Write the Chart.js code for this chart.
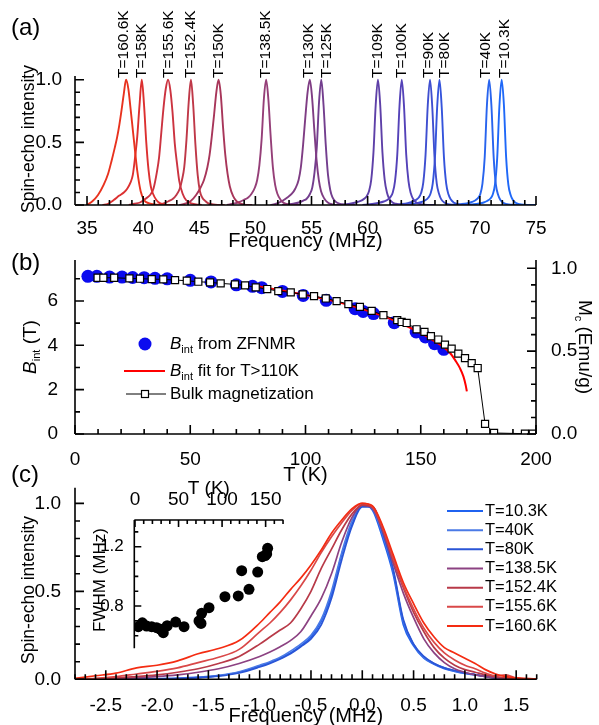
<!DOCTYPE html>
<html>
<head>
<meta charset="utf-8">
<script src="https://cdn.jsdelivr.net/npm/chart.js@4.4.1/dist/chart.umd.min.js"></script>
<style>
  html, body { margin: 0; padding: 0; background: #fff; overflow: hidden; width: 599px; height: 725px; }
  canvas { position: absolute; left: 0; top: 0; width: 599px; height: 760px; }
</style>
</head>
<body>
<canvas id="ca" width="599" height="760"></canvas>
<canvas id="cb" width="599" height="760"></canvas>
<canvas id="cc" width="599" height="760"></canvas>
<canvas id="cd" width="599" height="760"></canvas>
<script>
// ---------- panel (a): spectra vs frequency ----------
const aLabels = ['T=160.6K', 'T=158K', 'T=155.6K', 'T=152.4K', 'T=150K', 'T=138.5K', 'T=130K',
                 'T=125K', 'T=109K', 'T=100K', 'T=90K', 'T=80K', 'T=40K', 'T=10.3K'];
const aPeaks = [38.48, 39.88, 42.22, 44.26, 46.72, 50.96, 54.85, 55.87, 60.92, 63.04, 65.56, 66.40, 70.83, 71.94];
const aColors = ['#e8321e', '#dc3030', '#cc3340', '#bf3848', '#a8365a', '#953f78', '#7f3d84',
                 '#733e8e', '#5e40a8', '#5442b8', '#3f4fd0', '#3554dc', '#2864ee', '#1f68f8'];
// horizontal nudge (px) of each rotated label from its peak, so crowded labels stay apart
const aLabelNudge = [-2.7, 0, 0.4, -0.7, 0, -0.8, -0.8, 5.3, 0, 0, -1.5, 5.3, -3.3, 3.3];
// offsets (MHz) from each peak
const aOffsets = [-3.5, -3, -2.5, -2, -1.6, -1.3, -1, -0.8, -0.6, -0.4, -0.2, 0, 0.2, 0.4, 0.6, 0.8, 1, 1.3, 1.6, 2, 2.5, 3];
const a160 = [0, 0.03, 0.08, 0.16, 0.25, 0.35, 0.46, 0.54, 0.64, 0.76, 0.89, 1.0, 0.93, 0.77, 0.6, 0.43, 0.27, 0.11, 0.04, 0.015, 0.005, 0];
const a158 = [0, 0.01, 0.04, 0.075, 0.1, 0.13, 0.18, 0.24, 0.38, 0.55, 0.8, 1.0, 0.8, 0.5, 0.28, 0.15, 0.09, 0.04, 0.015, 0.005, 0, 0];
const a155 = [0, 0.01, 0.02, 0.05, 0.08, 0.13, 0.26, 0.38, 0.58, 0.78, 0.93, 1.0, 0.92, 0.74, 0.49, 0.33, 0.19, 0.09, 0.04, 0.015, 0.005, 0];
const a152 = [0, 0, 0.01, 0.03, 0.05, 0.08, 0.13, 0.2, 0.3, 0.52, 0.82, 1.0, 0.8, 0.48, 0.24, 0.11, 0.06, 0.03, 0.01, 0.005, 0, 0];
const a150 = [0, 0.01, 0.03, 0.08, 0.14, 0.2, 0.3, 0.4, 0.55, 0.72, 0.9, 1.0, 0.88, 0.62, 0.4, 0.25, 0.15, 0.07, 0.03, 0.01, 0, 0];
const a138 = [0, 0.01, 0.02, 0.04, 0.06, 0.09, 0.14, 0.2, 0.32, 0.53, 0.85, 1.0, 0.84, 0.55, 0.3, 0.16, 0.09, 0.04, 0.015, 0.005, 0, 0];
const a130 = [0, 0.01, 0.03, 0.06, 0.09, 0.13, 0.2, 0.3, 0.48, 0.7, 0.9, 1.0, 0.86, 0.6, 0.36, 0.2, 0.11, 0.05, 0.02, 0.005, 0, 0];
const a125 = [0, 0.005, 0.01, 0.02, 0.035, 0.05, 0.09, 0.14, 0.26, 0.46, 0.82, 1.0, 0.8, 0.48, 0.24, 0.12, 0.06, 0.025, 0.01, 0.003, 0, 0];
const a109 = [0, 0.005, 0.01, 0.02, 0.03, 0.045, 0.07, 0.11, 0.2, 0.42, 0.8, 1.0, 0.8, 0.42, 0.2, 0.1, 0.05, 0.02, 0.01, 0.003, 0, 0];
const a100 = [0, 0.005, 0.01, 0.018, 0.028, 0.04, 0.065, 0.1, 0.19, 0.4, 0.79, 1.0, 0.79, 0.4, 0.19, 0.095, 0.05, 0.02, 0.008, 0.003, 0, 0];
const a90 = [0, 0.004, 0.008, 0.015, 0.025, 0.038, 0.06, 0.095, 0.18, 0.4, 0.8, 1.0, 0.78, 0.38, 0.17, 0.09, 0.045, 0.018, 0.007, 0.002, 0, 0];
const a80 = [0, 0.004, 0.008, 0.015, 0.024, 0.036, 0.058, 0.09, 0.17, 0.38, 0.79, 1.0, 0.78, 0.38, 0.17, 0.085, 0.045, 0.018, 0.007, 0.002, 0, 0];
const a40 = [0, 0.003, 0.007, 0.013, 0.022, 0.034, 0.055, 0.085, 0.17, 0.38, 0.8, 1.0, 0.79, 0.38, 0.16, 0.08, 0.04, 0.015, 0.006, 0.002, 0, 0];
const a10 = [0, 0.003, 0.006, 0.012, 0.02, 0.032, 0.052, 0.082, 0.16, 0.37, 0.79, 1.0, 0.8, 0.38, 0.16, 0.08, 0.04, 0.015, 0.006, 0.002, 0, 0];
const aSpectra = [a160, a158, a155, a152, a150, a138, a130, a125, a109, a100, a90, a80, a40, a10];
const aXTicks = [35, 40, 45, 50, 55, 60, 65, 70, 75];
const aYTicks = [0, 0.5, 1.0];

// ---------- panel (b): internal field and magnetization vs T ----------
const bT = [5.6, 9.5, 15, 20.4, 25, 30, 34.7, 40, 50, 59, 70, 77, 81, 90, 99, 109, 121.5, 125, 129.5, 138.5, 148, 152, 156, 160];
const bB = [7.11, 7.11, 7.08, 7.08, 7.06, 7.05, 7.02, 7.0, 6.93, 6.86, 6.73, 6.66, 6.6, 6.43, 6.25, 6.03, 5.65, 5.53, 5.43, 5.02, 4.6, 4.38, 4.07, 3.82];
const fitT = [80, 90, 100, 110, 120, 130, 140, 150, 155, 160, 163, 165, 167, 168.5, 169.5, 170];
const fitB = [6.65, 6.47, 6.27, 6.05, 5.78, 5.45, 5.05, 4.55, 4.25, 3.92, 3.62, 3.32, 2.97, 2.6, 2.2, 1.92];
const mT = [9.8, 12.3, 17, 23.6, 28.2, 33.3, 38.3, 43.4, 48.5, 53.5, 58.6, 63.2, 69.4, 73.8, 78.4, 83.4, 88.2, 93.6,
            98.8, 103.7, 108.8, 113.5, 118.6, 123.6, 128.7, 133.8, 139.8, 141.7, 143.9, 148.2, 151.6, 154.4, 157.6,
            160.5, 163.4, 166.3, 169.2, 172.1, 174.7, 177.9, 181.8, 195.2, 198.6];
const mM = [0.943, 0.943, 0.943, 0.939, 0.937, 0.935, 0.933, 0.929, 0.925, 0.919, 0.915, 0.909, 0.903, 0.897, 0.885,
            0.875, 0.862, 0.855, 0.842, 0.832, 0.818, 0.802, 0.784, 0.767, 0.743, 0.717, 0.687, 0.676, 0.670, 0.632,
            0.616, 0.590, 0.570, 0.539, 0.515, 0.485, 0.458, 0.428, 0.398, 0.061, 0.006, 0.002, 0.002];
const bXTicks = [0, 50, 100, 150, 200];
const bYTicks = [0, 2, 4, 6];
const bY2Ticks = [0, 0.5, 1.0];

// ---------- panel (c): normalized spectra vs relative frequency ----------
const cLabels = ['T=10.3K', 'T=40K', 'T=80K', 'T=138.5K', 'T=152.4K', 'T=155.6K', 'T=160.6K'];
const cColors = ['#1f62f0', '#4a7ae6', '#2a55d6', '#8c4282', '#b83a48', '#d94848', '#f42c12'];
const cFreq = [-2.8, -2.6, -2.4, -2.2, -2.0, -1.8, -1.6, -1.4, -1.2, -1.0, -0.9, -0.8, -0.7, -0.6, -0.5, -0.4, -0.3, -0.2, -0.1, 0,
               0.1, 0.2, 0.3, 0.4, 0.5, 0.6, 0.7, 0.8, 0.9, 1.0, 1.1, 1.2, 1.3, 1.4, 1.5, 1.6, 1.7];
const c10 = [0, 0, 0, 0, 0.002, 0.005, 0.01, 0.02, 0.04, 0.075, 0.095, 0.12, 0.15, 0.19, 0.24, 0.33, 0.48, 0.71, 0.88, 0.99,
             0.96, 0.8, 0.6, 0.31, 0.19, 0.12, 0.085, 0.06, 0.045, 0.033, 0.025, 0.015, 0.008, 0.004, 0.002, 0.001, 0];
const c40 = [0, 0, 0, 0, 0.003, 0.006, 0.012, 0.022, 0.042, 0.08, 0.1, 0.125, 0.16, 0.2, 0.25, 0.34, 0.5, 0.72, 0.9, 0.99,
             0.97, 0.82, 0.62, 0.33, 0.2, 0.125, 0.09, 0.065, 0.048, 0.035, 0.026, 0.016, 0.009, 0.005, 0.002, 0.001, 0];
const c80 = [0, 0, 0, 0, 0.002, 0.004, 0.009, 0.018, 0.036, 0.07, 0.09, 0.115, 0.145, 0.185, 0.23, 0.31, 0.46, 0.68, 0.87, 0.98,
             0.98, 0.83, 0.63, 0.34, 0.2, 0.13, 0.09, 0.065, 0.05, 0.036, 0.027, 0.017, 0.009, 0.005, 0.003, 0.001, 0];
const c138 = [0, 0, 0.003, 0.008, 0.015, 0.025, 0.04, 0.06, 0.09, 0.13, 0.155, 0.185, 0.22, 0.27, 0.36, 0.46, 0.6, 0.78, 0.92, 0.99,
              0.97, 0.84, 0.66, 0.49, 0.35, 0.23, 0.15, 0.095, 0.06, 0.04, 0.025, 0.015, 0.008, 0.004, 0.002, 0.001, 0];
const c152 = [0, 0.003, 0.008, 0.015, 0.025, 0.04, 0.06, 0.09, 0.13, 0.2, 0.24, 0.28, 0.32, 0.4, 0.5, 0.63, 0.74, 0.85, 0.94, 0.99,
              0.98, 0.85, 0.68, 0.52, 0.38, 0.27, 0.18, 0.12, 0.08, 0.055, 0.04, 0.025, 0.015, 0.008, 0.004, 0.002, 0.001];
const c155 = [0, 0.005, 0.015, 0.03, 0.045, 0.065, 0.095, 0.125, 0.17, 0.27, 0.32, 0.38, 0.45, 0.53, 0.62, 0.72, 0.81, 0.89, 0.96, 1.0,
              0.98, 0.86, 0.69, 0.53, 0.4, 0.29, 0.21, 0.15, 0.11, 0.08, 0.06, 0.035, 0.02, 0.025, 0.008, 0.004, 0.002];
const c160 = [0.005, 0.02, 0.035, 0.065, 0.08, 0.105, 0.145, 0.175, 0.22, 0.32, 0.38, 0.44, 0.51, 0.575, 0.65, 0.735, 0.83, 0.905, 0.97, 1.0,
              0.985, 0.87, 0.71, 0.55, 0.43, 0.32, 0.24, 0.18, 0.15, 0.12, 0.09, 0.055, 0.03, 0.015, 0.008, 0.004, 0.003];
const cSpectra = [c10, c40, c80, c138, c152, c155, c160];
const cXTicks = [-2.5, -2.0, -1.5, -1.0, -0.5, 0, 0.5, 1.0, 1.5];
const cYTicks = [0, 0.5, 1.0];

// inset: FWHM vs T
const iT = [3.8, 8.4, 13.4, 19.1, 24.9, 29.5, 32.5, 37, 46.7, 56.3, 73.5, 75.8, 76.5, 85, 103.3, 118.6, 122.5, 130.9, 140.9, 146.2, 149.5, 151.2, 152.3];
const iW = [0.661, 0.687, 0.665, 0.661, 0.654, 0.643, 0.620, 0.667, 0.692, 0.661, 0.699, 0.683, 0.751, 0.789, 0.863, 0.868, 1.038, 0.913, 1.029, 1.133, 1.14, 1.151, 1.189];
const iXTicks = [0, 50, 100, 150];
const iYTicks = [0.8, 1.2];

// ---------- helpers ----------
const FONT = '"Liberation Sans", Arial, Helvetica, sans-serif';
Chart.defaults.font.family = FONT;
Chart.defaults.color = '#000';
const CW = 599, CH = 760;

function pad(area, s) {
  return {
    left: area.l - (s.left || 0), top: area.t - (s.top || 0),
    right: CW - area.r - (s.right || 0), bottom: CH - area.b - (s.bottom || 0)
  };
}
function fix(prop, v) {
  return s => { s[prop] = v; s.paddingLeft = 0; s.paddingRight = 0; s.paddingTop = 0; s.paddingBottom = 0; };
}
function setTicks(list) {
  return s => { s.ticks = list.map(v => ({ value: v })); };
}
function base(area, sizes) {
  return {
    responsive: false, animation: false, events: [],
    layout: { padding: pad(area, sizes) },
    plugins: { legend: { display: false }, tooltip: { enabled: false } }
  };
}
function scale(min, max, ticks, fmt, size, padding, fit, extra) {
  return Object.assign({
    type: 'linear', min, max,
    grid: { display: false }, border: { display: false },
    afterBuildTicks: setTicks(ticks),
    ticks: { font: { size }, padding, maxRotation: 0, minRotation: 0, autoSkip: false, callback: fmt },
    afterFit: fit
  }, extra || {});
}
// inward ticks + axis lines
function axisTicks(axes) {
  return {
    id: 'inTicks',
    afterDatasetsDraw(chart) {
      const ctx = chart.ctx, a = chart.chartArea;
      ctx.save();
      ctx.strokeStyle = '#000';
      ctx.lineWidth = 1.6;
      for (const ax of axes) {
        const s = chart.scales[ax.id];
        const horiz = ax.side === 'bottom' || ax.side === 'top';
        const pos = a[ax.side];
        const dir = (ax.side === 'bottom' || ax.side === 'right') ? -1 : 1;
        ctx.beginPath();
        if (horiz) { ctx.moveTo(a.left, pos); ctx.lineTo(a.right, pos); }
        else { ctx.moveTo(pos, a.top); ctx.lineTo(pos, a.bottom); }
        const n = Math.round((ax.to - ax.from) / ax.step);
        for (let i = 0; i <= n; i++) {
          const v = ax.from + i * ax.step;
          const major = ax.major.some(m => Math.abs(m - v) < 1e-6);
          const len = major ? ax.long : ax.short;
          const p = s.getPixelForValue(v);
          if (horiz) { ctx.moveTo(p, pos); ctx.lineTo(p, pos + dir * len); }
          else { ctx.moveTo(pos, p); ctx.lineTo(pos + dir * len, p); }
        }
        ctx.stroke();
      }
      ctx.restore();
    }
  };
}
function rich(ctx, parts, x, y, align) {
  let w = 0;
  for (const p of parts) { ctx.font = p[1]; w += ctx.measureText(p[0]).width; }
  let cx = align === 'center' ? x - w / 2 : x;
  ctx.textAlign = 'left';
  ctx.textBaseline = 'middle';
  for (const p of parts) {
    ctx.font = p[1];
    ctx.fillText(p[0], cx, y + (p[2] || 0));
    cx += ctx.measureText(p[0]).width;
  }
}
function panelLabel(ctx, t, x, y) {
  ctx.font = '24px ' + FONT;
  ctx.fillStyle = '#000';
  ctx.textAlign = 'left';
  ctx.textBaseline = 'middle';
  ctx.fillText(t, x, y);
}
function vTitle(ctx, t, x, y, size) {
  ctx.save();
  ctx.translate(x, y);
  ctx.rotate(-Math.PI / 2);
  ctx.font = size + 'px ' + FONT;
  ctx.fillStyle = '#000';
  ctx.textAlign = 'center';
  ctx.textBaseline = 'middle';
  ctx.fillText(t, 0, 0);
  ctx.restore();
}

// ---------- chart (a) ----------
const areaA = { l: 75, t: 76, r: 536, b: 205 };
const optA = base(areaA, { left: 75, bottom: 48 });
optA.scales = {
  x: scale(33.93, 75, aXTicks, v => v, 19, 4.6, fix('height', 48),
    { title: { display: true, text: 'Frequency (MHz)', font: { size: 20 }, padding: { top: 0, bottom: 0 } } }),
  y: scale(0, 1.03, aYTicks, v => v.toFixed(1), 19, 5, fix('width', 75))
};
new Chart(document.getElementById('ca'), {
  type: 'scatter',
  data: {
    datasets: aSpectra.map((I, k) => ({
      data: aOffsets.map((d, i) => ({ x: aPeaks[k] + d, y: I[i] })),
      showLine: true, borderColor: aColors[k], borderWidth: 1.9, pointRadius: 0,
      cubicInterpolationMode: 'monotone'
    }))
  },
  options: optA,
  plugins: [
    axisTicks([
      { id: 'x', side: 'bottom', from: 35, to: 75, step: 1, major: aXTicks, long: 9, short: 5 },
      { id: 'y', side: 'left', from: 0, to: 1, step: 0.1, major: aYTicks, long: 9, short: 5 }
    ]),
    {
      id: 'aText',
      afterDraw(chart) {
        const ctx = chart.ctx, xs = chart.scales.x;
        ctx.save();
        ctx.fillStyle = '#000';
        ctx.font = '15.5px ' + FONT;
        ctx.textAlign = 'left';
        ctx.textBaseline = 'middle';
        aLabels.forEach((t, k) => {
          ctx.save();
          ctx.translate(xs.getPixelForValue(aPeaks[k]) + aLabelNudge[k], 78);
          ctx.rotate(-Math.PI / 2);
          ctx.fillText(t, 0, 0);
          ctx.restore();
        });
        vTitle(ctx, 'Spin-echo intensity', 29, 139, 17.5);
        panelLabel(ctx, '(a)', 11, 28);
        ctx.restore();
      }
    }
  ]
});

// ---------- chart (b) ----------
const areaB = { l: 75, t: 260, r: 536, b: 434 };
const optB = base(areaB, { left: 75, right: 63, bottom: 53 });
optB.scales = {
  x: scale(0, 200, bXTicks, v => v, 19, 6.6, fix('height', 53),
    { title: { display: true, text: 'T (K)', font: { size: 20 }, padding: { top: 0, bottom: 0 } } }),
  y: scale(0, 174 / 22.17, bYTicks, v => v, 19, 9, fix('width', 75)),
  y2: scale(0, 174 / 165.7, bY2Ticks, v => v.toFixed(1), 19, 7, fix('width', 63), { position: 'right' })
};
new Chart(document.getElementById('cb'), {
  type: 'scatter',
  data: {
    datasets: [
      {
        data: mT.map((t, i) => ({ x: t, y: mM[i] })), yAxisID: 'y2',
        showLine: true, borderColor: '#000', borderWidth: 1, pointStyle: 'rect', pointRadius: 5,
        pointBackgroundColor: '#fff', pointBorderColor: '#000', pointBorderWidth: 1.2
      },
      {
        data: fitT.map((t, i) => ({ x: t, y: fitB[i] })), yAxisID: 'y',
        showLine: true, borderColor: '#ff0000', borderWidth: 2, pointRadius: 0, cubicInterpolationMode: 'monotone'
      },
      {
        data: bT.map((t, i) => ({ x: t, y: bB[i] })), yAxisID: 'y',
        showLine: false, pointRadius: 6.5, pointBackgroundColor: '#0b0bef', pointBorderWidth: 0
      }
    ]
  },
  options: optB,
  plugins: [
    axisTicks([
      { id: 'x', side: 'bottom', from: 0, to: 200, step: 10, major: bXTicks, long: 9, short: 5 },
      { id: 'y', side: 'left', from: 0, to: 7, step: 1, major: bYTicks, long: 9, short: 5 },
      { id: 'y2', side: 'right', from: 0, to: 1, step: 0.1, major: bY2Ticks, long: 9, short: 5 }
    ]),
    {
      id: 'bText',
      afterDraw(chart) {
        const ctx = chart.ctx;
        ctx.save();
        ctx.fillStyle = '#000';
        panelLabel(ctx, '(b)', 11, 263);
        // left title
        ctx.save();
        ctx.translate(31, 347);
        ctx.rotate(-Math.PI / 2);
        rich(ctx, [['B', 'italic 19px ' + FONT], ['int', '11px ' + FONT, 6], [' (T)', '19px ' + FONT]], 0, 0, 'center');
        ctx.restore();
        // right title
        ctx.save();
        ctx.translate(584, 347);
        ctx.rotate(Math.PI / 2);
        rich(ctx, [['M', '19px ' + FONT], ['c', '11px ' + FONT, 6], [' (Emu/g)', '19px ' + FONT]], 0, 0, 'center');
        ctx.restore();
        // legend
        ctx.fillStyle = '#0b0bef';
        ctx.beginPath(); ctx.arc(145, 344, 6.5, 0, Math.PI * 2); ctx.fill();
        ctx.strokeStyle = '#ff0000'; ctx.lineWidth = 2;
        ctx.beginPath(); ctx.moveTo(124, 371); ctx.lineTo(165, 371); ctx.stroke();
        ctx.strokeStyle = '#000'; ctx.lineWidth = 1;
        ctx.beginPath(); ctx.moveTo(126, 394); ctx.lineTo(166, 394); ctx.stroke();
        ctx.fillStyle = '#fff'; ctx.lineWidth = 1.2;
        ctx.fillRect(141.5, 390.5, 7, 7); ctx.strokeRect(141.5, 390.5, 7, 7);
        ctx.fillStyle = '#000';
        rich(ctx, [['B', 'italic 17px ' + FONT], ['int', '11px ' + FONT, 6], [' from ZFNMR', '17px ' + FONT]], 170, 344);
        rich(ctx, [['B', 'italic 17px ' + FONT], ['int', '11px ' + FONT, 6], [' fit for T>110K', '17px ' + FONT]], 170, 371);
        rich(ctx, [['Bulk magnetization', '17px ' + FONT]], 170, 394);
        ctx.restore();
      }
    }
  ]
});

// ---------- chart (c) ----------
const areaC = { l: 75, t: 487.7, r: 536.7, b: 679.3 };
const optC = base(areaC, { left: 75, bottom: 48.7 });
optC.scales = {
  x: scale(-2.8, 1.7, cXTicks, v => v.toFixed(1), 19, 7.3, fix('height', 48.7),
    { title: { display: true, text: 'Frequency (MHz)', font: { size: 20 }, padding: { top: 0, bottom: 0 } } }),
  y: scale(0, 1.089, cYTicks, v => v.toFixed(1), 19, 6, fix('width', 75))
};
new Chart(document.getElementById('cc'), {
  type: 'scatter',
  data: {
    datasets: cSpectra.map((I, k) => ({
      data: cFreq.map((f, i) => ({ x: f, y: I[i] })),
      showLine: true, borderColor: cColors[k], borderWidth: 1.7, pointRadius: 0,
      cubicInterpolationMode: 'monotone', order: cSpectra.length - k
    }))
  },
  options: optC,
  plugins: [
    axisTicks([
      { id: 'x', side: 'bottom', from: -2.8, to: 1.7, step: 0.1, major: cXTicks, long: 9, short: 5 },
      { id: 'y', side: 'left', from: 0, to: 1, step: 0.1, major: cYTicks, long: 9, short: 5 }
    ]),
    {
      id: 'cText',
      afterDraw(chart) {
        const ctx = chart.ctx;
        ctx.save();
        panelLabel(ctx, '(c)', 11, 475);
        vTitle(ctx, 'Spin-echo intensity', 29.5, 590, 17.5);
        ctx.lineWidth = 2;
        cLabels.forEach((t, k) => {
          const y = 511 + k * 19.17;
          ctx.strokeStyle = cColors[k];
          ctx.beginPath(); ctx.moveTo(447, y); ctx.lineTo(483, y); ctx.stroke();
          ctx.fillStyle = '#000';
          ctx.font = '16.5px ' + FONT;
          ctx.textAlign = 'left';
          ctx.textBaseline = 'middle';
          ctx.fillText(t, 485, y);
        });
        ctx.restore();
      }
    }
  ]
});

// ---------- inset (c) ----------
const areaD = { l: 134.3, t: 520, r: 283.3, b: 648.3 };
const optD = base(areaD, { left: 46, top: 42.9 });
optD.scales = {
  x: scale(-0.8, 170.3, iXTicks, v => v, 19, 0.6, fix('height', 42.9),
    { position: 'top', title: { display: true, text: 'T (K)', font: { size: 19 }, padding: { top: 0, bottom: 0 } } }),
  y: scale(0.515, 1.38, iYTicks, v => v.toFixed(1), 17, 2.5, fix('width', 46))
};
new Chart(document.getElementById('cd'), {
  type: 'scatter',
  data: {
    datasets: [{
      data: iT.map((t, i) => ({ x: t, y: iW[i] })),
      pointRadius: 5.5, pointBackgroundColor: '#000', pointBorderWidth: 0
    }]
  },
  options: optD,
  plugins: [
    axisTicks([
      { id: 'x', side: 'top', from: 0, to: 170, step: 10, major: iXTicks, long: 7, short: 4 },
      { id: 'y', side: 'left', from: 0.6, to: 1.3, step: 0.1, major: iYTicks, long: 7, short: 4 }
    ]),
    {
      id: 'dText',
      afterDraw(chart) { vTitle(chart.ctx, 'FWHM (MHz)', 100, 580, 17); }
    }
  ]
});
</script>
</body>
</html>
